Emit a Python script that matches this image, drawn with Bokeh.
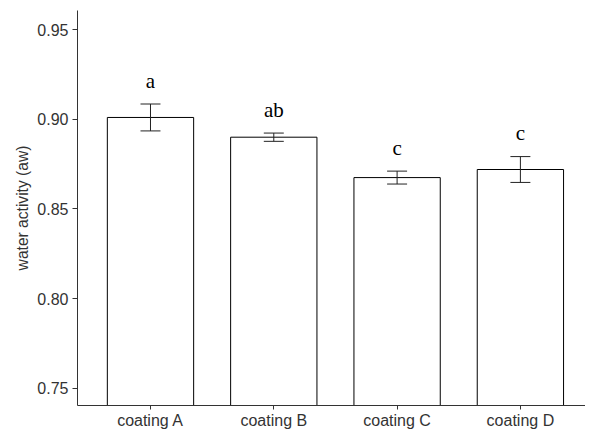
from bokeh.plotting import figure
from bokeh.models import Range1d, FixedTicker, ColumnDataSource
from bokeh.core.properties import value
from bokeh.embed import file_html
from bokeh.resources import INLINE

categories = ["coating A", "coating B", "coating C", "coating D"]
means = [0.901, 0.890, 0.8675, 0.872]
errors = [0.0075, 0.0023, 0.0036, 0.0072]
letters = ["a", "ab", "c", "c"]
y_ticks = [0.75, 0.80, 0.85, 0.90, 0.95]

xs = list(range(1, len(categories) + 1))
bar_w = 0.7
cap = 0.081
base = 0.7405
lo = [m - e for m, e in zip(means, errors)]
hi = [m + e for m, e in zip(means, errors)]

src = ColumnDataSource(dict(
    x=xs, top=means, lo=lo, hi=hi,
    xl=[x - cap for x in xs], xr=[x + cap for x in xs],
    ly=[h + 0.0062 for h in hi], lab=letters,
))

p = figure(width=585, height=431, output_backend="svg", toolbar_location=None,
           x_range=Range1d(0.408, 4.528), y_range=Range1d(base, 0.9606),
           min_border_left=77, min_border_top=10, min_border_right=0, min_border_bottom=26)
p.outline_line_color = None
p.xgrid.grid_line_color = None
p.ygrid.grid_line_color = None
p.background_fill_color = "white"
p.border_fill_color = "white"

p.vbar(x="x", top="top", bottom=base, width=bar_w, source=src,
       fill_color="white", line_color="black", line_width=1)
p.segment(x0="x", y0="lo", x1="x", y1="hi", source=src, line_color="#222222", line_width=1)
p.segment(x0="xl", y0="hi", x1="xr", y1="hi", source=src, line_color="#222222", line_width=1)
p.segment(x0="xl", y0="lo", x1="xr", y1="lo", source=src, line_color="#222222", line_width=1)
p.text(x="x", y="ly", text="lab", source=src, text_font=value("Liberation Serif"),
       text_font_size="21px", text_align="center", text_baseline="bottom", text_color="black")

p.xaxis.ticker = FixedTicker(ticks=xs)
p.xaxis.major_label_overrides = {x: c for x, c in zip(xs, categories)}
p.yaxis.ticker = FixedTicker(ticks=y_ticks)
p.yaxis.major_label_overrides = {t: f"{t:.2f}" for t in y_ticks}
p.yaxis.axis_label = "water activity (aw)"

for ax in (p.xaxis[0], p.yaxis[0]):
    ax.axis_line_color = "#333333"
    ax.major_tick_line_color = "#333333"
    ax.minor_tick_line_color = None
    ax.major_tick_in = 0
    ax.major_tick_out = 5
    ax.major_label_text_font = "Liberation Sans"
    ax.major_label_text_font_size = "16px"
    ax.major_label_text_color = "#333333"
    ax.major_label_standoff = 4

p.yaxis.axis_label_text_font = "Liberation Sans"
p.yaxis.axis_label_text_font_size = "15.6px"
p.yaxis.axis_label_text_font_style = "normal"
p.yaxis.axis_label_text_color = "#333333"
p.yaxis.axis_label_standoff = 3
p.xaxis.major_tick_out = 4
p.xaxis.major_label_standoff = 2

open("out.html", "w").write(file_html(p, INLINE))
